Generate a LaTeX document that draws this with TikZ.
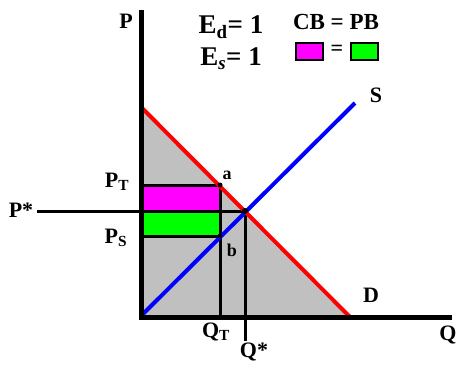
\documentclass[tikz,border=0pt]{standalone}
\usepackage{fontspec}
\setmainfont{Liberation Serif}
\begin{document}
\begin{tikzpicture}[x=1pt,y=-1pt,
  lbl/.style={font=\bfseries\fontsize{22}{24}\selectfont, inner sep=0pt},
  big/.style={font=\bfseries\fontsize{27}{29}\selectfont, inner sep=0pt},
  small/.style={font=\bfseries\fontsize{18}{20}\selectfont, inner sep=0pt},
  axis/.style={line width=5pt},
  guide/.style={line width=3pt},
  curve/.style={line width=4pt},
  dot/.style={circle, fill=black, inner sep=0pt, minimum size=6pt},
  legbox/.style={draw=black, line width=1.5pt, minimum width=27pt, minimum height=17pt, inner sep=0pt}]
\definecolor{areagray}{HTML}{C0C0C0}
\definecolor{mag}{HTML}{FF00FF}
\definecolor{grn}{HTML}{00FF00}
\definecolor{dblue}{HTML}{0000FF}
\useasboundingbox (0,0) rectangle (456,367);
% key points
\coordinate (O) at (141,317);
\coordinate (Ptop) at (141,10);
\coordinate (Qend) at (452,317);
\coordinate (D1) at (142,108);
\coordinate (D2) at (350,317);
\coordinate (S1) at (143,314);
\coordinate (S2) at (355,103);
\coordinate (E) at (245,211);
\coordinate (A) at (220,185);
\coordinate (B) at (220,236);
\coordinate (PTl) at (143,185);
\coordinate (PSl) at (143,236);
\coordinate (PSTART) at (37,211);
\coordinate (QTbot) at (220,317);
\coordinate (QSbot) at (245,341);
% shaded area
\fill[areagray] (D1) -- (D2) -- (O) -- cycle;
\fill[mag] (PTl) rectangle (E -| A);
\fill[grn] (143,211) rectangle (B);
% guide lines
\draw[guide] (PTl) -- (A);
\draw[guide] (PSl) -- (B);
\draw[guide] (A) -- (QTbot);
\draw[guide] (PSTART) -- (E);
\draw[guide] (E) -- (QSbot);
% curves
\draw[curve, dblue] (S1) -- (S2);
\draw[curve, red] (D1) -- (D2);
% axes
\draw[axis] (Ptop) -- (141,319.5);
\draw[axis] (138.5,317) -- (Qend);
% dots
\node[dot, minimum size=5pt] (dA) at (A) {};
\node[dot, minimum size=5pt] (dB) at (B) {};
\node[dot] (dE) at (E) {};
% labels
\node[lbl] (lP) at (126,21) {P};
\node[lbl] (lQ) at (448,335) {Q};
\node[lbl] (lS) at (376,95) {S};
\node[lbl] (lD) at (371,295) {D};
\node[lbl] (lPT) at (117,182) {P\textsubscript{T}};
\node[lbl] (lPstar) at (21,210) {P*};
\node[lbl] (lPS) at (116,238) {P\textsubscript{S}};
\node[lbl] (lQT) at (216,332) {Q\textsubscript{T}};
\node[lbl] (lQstar) at (254,352) {Q*};
\node[small] (la) at (227,175) {a};
\node[small] (lb) at (232,250) {b};
\node[big] (lEd) at (231,27) {E\textsubscript{d}= 1};
\node[big] (lEs) at (231,59) {E\textsubscript{\textit{s}}= 1};
\node[lbl, font=\bfseries\fontsize{23}{25}\selectfont] (lCB) at (336,22) {CB = PB};
\node[legbox, fill=mag] (bm) at (309.5,51.5) {};
\node[legbox, fill=grn] (bg) at (364.5,51.5) {};
\node[lbl] (leq) at (337,50) {=};
\end{tikzpicture}
\end{document}
